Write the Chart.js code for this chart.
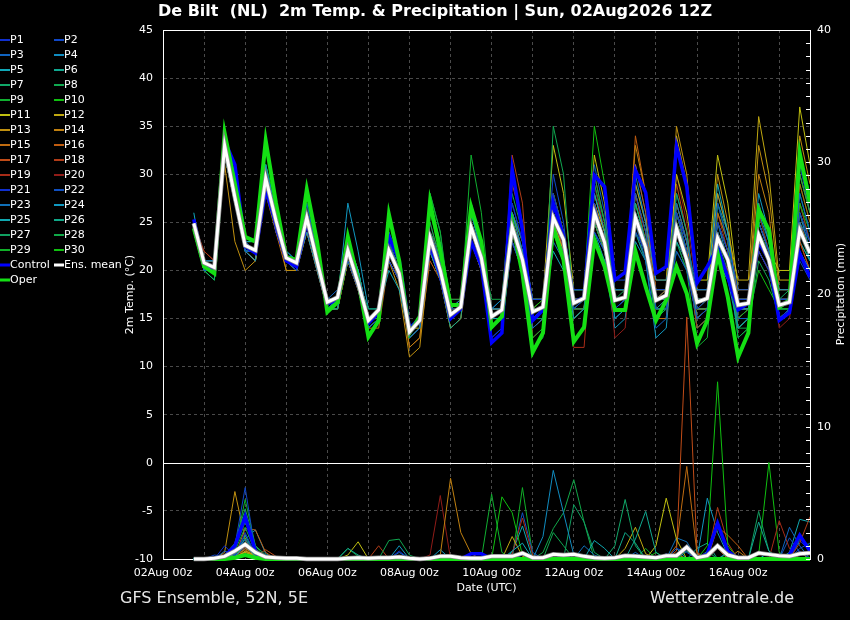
<!DOCTYPE html>
<html>
<head>
<meta charset="utf-8">
<script src="https://cdn.jsdelivr.net/npm/chart.js@4.4.1/dist/chart.umd.min.js"></script>
<style>
  html, body { margin: 0; padding: 0; background: #000; }
  #wrap { position: relative; width: 850px; height: 620px; }
</style>
</head>
<body>
<div id="wrap"><canvas id="chart" width="850" height="620"></canvas></div>
<script>
// =========================
// DATA (6-hourly, hours after 02Aug 00z)
// =========================

const hours = [18,
  24, 30, 36, 42, 48, 54, 60, 66, 72, 78, 84, 90, 96, 102, 108, 114,
  120, 126, 132, 138, 144, 150, 156, 162, 168, 174, 180, 186, 192, 198, 204, 210,
  216, 222, 228, 234, 240, 246, 252, 258, 264, 270, 276, 282, 288, 294, 300, 306,
  312, 318, 324, 330, 336, 342, 348, 354, 360, 366, 372, 378];

const xTickLabels = ["02Aug 00z", "04Aug 00z", "06Aug 00z", "08Aug 00z",
  "10Aug 00z", "12Aug 00z", "14Aug 00z", "16Aug 00z"];

const memberNames = ["P1","P2","P3","P4","P5","P6","P7","P8","P9","P10",
  "P11","P12","P13","P14","P15","P16","P17","P18","P19","P20",
  "P21","P22","P23","P24","P25","P26","P27","P28","P29","P30"];

const memberColors = ["#1030d0","#1048c8","#1064c0","#108cc0","#10a8b8","#10a890","#10a868","#10a850","#10b030","#10c010",
  "#c0c010","#c0a810","#c09010","#c08010","#c06c10","#c05c10","#c04c18","#b03c18","#a82c18","#901c18",
  "#1030d0","#1050c0","#1070b8","#1098c0","#10a8b0","#10a888","#10a060","#10a848","#10b028","#10c010"];

const meanTemp = [24.9,
  20.8, 20.3, 33.0, 27.6,  22.6, 22.1, 29.6, 25.2,  21.3, 20.8, 25.5, 21.0,
  16.7, 17.2, 22.1, 18.7,  14.8, 15.9, 22.1, 19.7,  13.6, 14.8, 23.4, 20.0,
  15.4, 16.2, 24.5, 21.3,  15.2, 15.9, 24.5, 21.1,  15.7, 16.2, 25.5, 23.2,
  16.6, 17.1, 26.0, 22.9,  16.9, 17.2, 25.5, 22.4,  16.9, 17.4, 24.4, 21.1,
  16.7, 17.1, 23.4, 21.1,  16.4, 16.6, 23.7, 21.1,  16.4, 16.7, 24.2, 21.8];

const controlTemp = [25.3,
  20.5, 20.0, 33.5, 31.0,  22.5, 21.8, 28.4, 24.8,  21.0, 20.4, 25.0, 21.2,
  16.5, 17.0, 22.6, 19.0,  14.5, 15.6, 23.5, 21.0,  14.0, 15.0, 22.8, 19.5,
  15.0, 16.0, 23.0, 20.5,  12.5, 13.5, 30.5, 24.2,  14.8, 15.9, 27.0, 23.5,
  16.7, 17.2, 29.9, 28.7,  19.0, 19.8, 30.4, 28.1,  19.7, 20.4, 32.9, 28.7,
  18.7, 20.4, 22.4, 19.3,  15.9, 16.6, 23.0, 21.1,  14.8, 15.6, 21.8, 19.3];

const operTemp = [24.4,
  20.4, 19.7, 34.3, 29.0,  23.5, 23.0, 33.5, 27.0,  21.4, 21.1, 28.4, 23.0,
  15.7, 16.7, 23.5, 19.0,  13.1, 14.8, 25.8, 21.0,  13.5, 15.2, 27.1, 22.0,
  16.4, 16.4, 26.6, 23.0,  14.1, 15.2, 24.9, 19.7,  11.5, 13.5, 24.5, 21.1,
  12.6, 14.1, 23.2, 20.4,  15.9, 15.9, 22.0, 18.3,  14.8, 16.9, 20.4, 17.6,
  12.4, 14.8, 21.8, 17.2,  11.0, 13.5, 26.3, 24.2,  16.2, 16.9, 32.2, 27.0];

const memberTemp = [
  [25, 21,20,34,29, 23,22,29,24, 21,20,25,21, 17,17,23,19, 15,16,21,19, 14,15,22,20, 16,16,24,21, 14,15,27,23, 17,17,28,24, 18,18,27,23, 16,17,24,22, 18,18,26,22, 16,17,25,22, 17,17,22,20, 15,16,26,23],
  [24, 20,20,33,28, 22,22,30,26, 22,21,26,21, 16,17,21,18, 14,15,23,20, 13,14,24,21, 15,16,23,20, 13,14,23,20, 15,16,30,25, 16,17,24,22, 19,19,28,24, 16,16,22,20, 15,16,27,23, 18,18,25,22, 17,17,21,19],
  [25, 21,21,32,27, 23,22,29,25, 21,21,27,22, 17,18,22,19, 15,16,21,19, 14,15,24,20, 15,16,25,22, 16,16,23,20, 14,15,24,22, 17,17,31,26, 18,18,25,21, 14,15,27,23, 18,18,24,21, 15,15,25,22, 17,17,28,24],
  [24, 21,20,33,27, 22,21,31,26, 21,20,24,20, 16,16,22,19, 14,15,22,20, 14,15,22,19, 16,17,26,22, 16,17,26,22, 17,17,24,21, 15,16,23,21, 16,17,30,25, 19,19,24,21, 17,17,21,19, 14,15,26,23, 18,18,25,21],
  [26, 20,20,34,28, 23,23,30,25, 22,21,26,21, 17,17,23,20, 15,16,20,18, 13,14,23,20, 15,16,24,21, 15,15,25,22, 16,16,22,20, 18,18,28,24, 15,16,26,23, 17,17,23,21, 18,18,29,24, 16,16,24,21, 15,16,22,20],
  [25, 21,21,33,28, 22,22,29,25, 21,21,25,21, 16,17,23,20, 15,16,23,21, 14,15,22,19, 14,15,26,22, 16,16,24,21, 15,16,27,24, 17,17,23,21, 18,18,27,23, 16,17,25,22, 15,16,21,19, 17,17,27,23, 16,17,24,22],
  [24, 20,19,32,27, 23,22,31,26, 21,21,25,21, 17,17,22,19, 16,16,22,20, 14,15,25,21, 16,17,24,21, 14,15,26,23, 17,17,26,23, 16,17,25,22, 17,17,24,21, 18,18,28,24, 16,16,25,22, 14,15,23,21, 17,18,26,23],
  [25, 21,20,33,29, 22,22,30,25, 21,21,26,22, 17,17,23,20, 15,15,22,21, 14,15,27,23, 17,17,27,23, 15,16,28,24, 12,13,35,30, 16,16,30,25, 17,18,24,22, 15,16,22,20, 17,17,24,21, 13,14,21,19, 15,16,30,26],
  [25, 20,19,34,29, 23,23,30,26, 22,21,26,22, 16,16,21,19, 14,15,23,20, 14,15,28,24, 16,16,32,26, 15,15,25,22, 13,14,27,23, 15,16,29,25, 18,18,26,22, 16,16,23,20, 12,13,27,23, 15,16,24,22, 16,16,32,28],
  [24, 21,20,33,28, 22,22,31,27, 21,20,25,21, 16,17,22,19, 15,16,23,20, 13,14,26,22, 15,16,25,21, 14,15,24,21, 16,17,28,24, 18,18,35,29, 17,17,27,23, 15,16,26,22, 16,17,23,21, 14,15,20,18, 16,16,27,24],
  [25, 21,21,32,27, 23,22,30,25, 21,21,26,22, 17,17,22,19, 15,16,21,19, 14,14,24,21, 16,17,25,22, 15,15,24,21, 17,17,33,28, 18,18,32,27, 16,16,25,22, 18,18,30,26, 19,19,32,27, 18,18,25,22, 20,20,37,31],
  [24, 20,20,33,28, 22,21,29,25, 21,20,25,21, 16,16,21,18, 14,15,22,19, 14,15,23,20, 15,16,24,21, 16,16,26,23, 17,17,25,22, 17,17,27,24, 18,18,29,25, 19,19,34,29, 17,17,28,24, 19,19,36,30, 19,19,30,26],
  [25, 21,20,31,23, 20,21,30,25, 20,20,24,20, 16,16,21,18, 14,15,21,18, 11,12,22,19, 14,15,23,20, 15,16,25,22, 16,17,26,23, 17,17,25,22, 16,16,28,24, 17,18,35,30, 18,18,30,25, 17,17,33,28, 18,18,34,29],
  [25, 21,20,32,27, 22,22,28,24, 21,20,25,21, 16,17,22,19, 14,15,22,20, 12,13,23,20, 15,16,24,21, 16,16,24,21, 15,16,25,22, 17,17,26,23, 18,18,33,28, 16,16,27,23, 15,16,24,21, 17,17,30,26, 16,17,25,22],
  [24, 20,20,32,27, 23,23,29,24, 20,20,24,20, 16,16,21,18, 14,14,21,19, 13,14,22,19, 15,16,23,20, 15,16,24,21, 16,16,27,23, 16,16,28,24, 17,17,31,26, 15,15,24,21, 16,16,26,23, 14,15,24,21, 15,16,26,23],
  [25, 21,20,33,28, 22,21,29,25, 21,21,26,21, 17,17,22,19, 15,15,21,19, 12,13,21,19, 14,15,24,21, 16,16,25,22, 14,15,24,22, 15,16,25,22, 17,17,34,28, 18,18,26,22, 15,16,25,22, 16,16,23,21, 17,17,29,25],
  [25, 21,21,33,29, 23,22,30,25, 21,21,26,22, 17,17,23,19, 15,16,23,20, 14,15,22,19, 16,16,23,20, 14,15,29,25, 15,16,26,22, 17,17,27,24, 16,16,25,22, 18,18,29,24, 16,17,22,20, 15,16,25,22, 17,17,23,20],
  [24, 22,21,33,29, 22,22,30,25, 21,20,25,21, 16,16,22,19, 15,15,22,19, 13,14,24,21, 17,17,25,21, 15,15,32,27, 13,14,28,24, 15,16,30,25, 18,18,28,23, 17,17,25,22, 14,15,22,20, 18,18,27,23, 16,17,23,20],
  [25, 22,21,32,28, 23,22,31,25, 21,20,26,22, 17,17,22,19, 14,15,22,20, 14,15,23,20, 16,16,25,22, 16,16,26,22, 15,16,24,21, 12,12,26,23, 16,17,27,23, 17,17,24,21, 16,16,26,22, 15,16,22,20, 18,18,27,23],
  [25, 21,20,33,28, 22,22,29,25, 21,21,25,22, 17,17,23,20, 15,16,21,19, 13,14,25,21, 16,16,24,21, 16,16,23,20, 17,17,28,24, 16,17,29,24, 13,14,26,22, 16,17,30,25, 18,18,25,22, 17,17,26,22, 14,15,22,20],
  [25, 21,21,33,29, 23,22,30,26, 21,21,25,21, 16,17,22,19, 15,16,22,20, 14,15,23,20, 15,16,26,22, 13,14,23,20, 16,16,25,22, 18,18,29,24, 17,17,31,26, 16,17,26,23, 17,17,24,21, 16,16,25,22, 17,17,31,26],
  [24, 20,20,34,30, 22,22,29,24, 21,21,26,21, 17,17,22,18, 15,15,23,20, 14,15,22,20, 16,16,24,21, 16,17,27,23, 16,16,26,22, 17,17,25,22, 15,16,24,21, 17,18,23,20, 15,16,28,24, 17,17,24,21, 16,16,25,23],
  [25, 21,20,33,28, 22,21,29,25, 21,20,26,21, 17,17,22,19, 15,16,24,21, 14,15,23,20, 16,16,23,20, 15,16,25,21, 14,15,23,21, 16,16,24,22, 18,18,29,25, 17,17,28,24, 16,16,23,21, 14,15,22,20, 15,16,25,22],
  [25, 21,20,33,28, 22,21,30,25, 21,20,25,21, 17,17,27,22, 16,16,23,20, 14,15,22,20, 15,16,24,21, 16,16,24,22, 15,16,26,23, 16,17,24,21, 14,15,23,21, 13,14,26,23, 17,17,25,21, 16,16,28,24, 17,17,23,21],
  [24, 20,20,32,27, 23,22,29,25, 22,21,25,21, 16,17,23,20, 15,15,22,20, 14,15,24,21, 16,16,25,22, 15,15,26,22, 16,17,27,23, 17,17,26,23, 16,17,25,22, 15,16,24,21, 16,16,27,24, 17,17,24,21, 16,17,26,22],
  [25, 21,21,34,29, 22,22,30,25, 21,20,25,21, 17,17,22,19, 15,16,22,20, 14,15,23,20, 16,17,24,21, 16,16,23,20, 16,16,28,24, 15,16,27,23, 17,17,26,23, 16,16,26,22, 14,15,25,22, 16,16,22,20, 18,18,28,24],
  [25, 21,20,33,28, 23,22,31,26, 21,21,27,22, 16,16,22,19, 15,15,22,20, 14,15,28,24, 15,16,27,23, 16,16,25,22, 15,15,24,21, 17,17,26,23, 18,18,25,22, 15,15,27,23, 17,17,23,20, 15,16,26,22, 16,16,24,21],
  [24, 21,20,33,28, 22,22,29,25, 21,21,26,22, 17,17,22,20, 14,15,21,19, 14,15,24,22, 15,16,25,22, 17,17,30,25, 14,15,24,22, 16,17,28,24, 17,17,28,24, 16,16,26,22, 14,15,26,23, 14,14,23,21, 17,17,27,23],
  [25, 20,19,34,29, 23,23,30,25, 22,21,26,22, 17,17,23,20, 15,16,22,20, 14,15,22,20, 16,16,26,23, 15,16,24,21, 15,15,26,23, 15,16,25,22, 16,17,27,23, 18,18,25,22, 15,16,23,21, 13,14,25,22, 16,17,29,25],
  [25, 21,20,33,28, 22,22,30,26, 21,20,25,21, 16,17,22,19, 15,15,23,20, 13,14,23,21, 15,16,24,21, 15,15,25,22, 16,16,25,22, 18,18,27,23, 16,16,25,22, 17,17,24,21, 17,17,22,20, 15,16,24,21, 15,16,23,21]
];

const meanPrecip = [0,
  0, 0.05, 0.2, 0.6,  1.1, 0.5, 0.15, 0.1,  0.05, 0.05, 0, 0,  0, 0, 0.05, 0.1,
  0.05, 0.1, 0.1, 0.15,  0.05, 0, 0.05, 0.2,  0.2, 0.1, 0.05, 0.05,  0.2, 0.2, 0.2, 0.45,
  0.1, 0.1, 0.35, 0.3,  0.35, 0.2, 0.1, 0.05,  0.1, 0.25, 0.2, 0.15,  0.1, 0.25, 0.25, 0.9,
  0.1, 0.25, 1.0, 0.3,  0.1, 0.1, 0.45, 0.35,  0.25, 0.2, 0.4, 0.45];

const controlPrecip = [0,
  0,0,0.2,1.0, 3.2,0.6,0,0, 0,0,0,0, 0,0,0,0, 0,0,0,0, 0,0,0,0, 0,0,0.4,0.4, 0,0,0,0,
  0,0,0,0, 0,0,0,0, 0,0,0,0, 0,0,0,0, 0,0.4,2.7,0.6, 0,0,0,0, 0,0.3,1.8,0.6];

const operPrecip = [0,
  0,0,0,0.1, 0.3,0.1,0,0, 0,0,0,0, 0,0,0,0, 0,0,0,0, 0,0,0,0, 0,0,0,0, 0,0,0,0,
  0,0,0,0, 0,0,0,0, 0,0,0,0, 0,0,0,0, 0,0,0,0, 0,0,0,0, 0,0,0,0];

const memberPrecip = [
  [0, 0,0,1.0,0.2, 2.0,0.3,0,0, 0,0,0,0, 0,0,0,0, 0,0,0,0.2, 0,0,0,0, 0,0,0,0, 0,0,0,0.3, 0,0,0,0, 0,0,0,0, 0,0,0,0, 0,0.4,0,0, 0,0,0,0, 0,0,0,0, 0,0,0.6,0],
  [0, 0,0.3,0.2,1.0, 5.4,0.5,0,0, 0,0,0,0, 0,0,0,0, 0,0,0,0, 0,0,0,0, 0,0,0,0, 0,0,0,0, 0,0,0,0.4, 0,0,0,0, 0,0,0,0, 0,0,0.8,0.5, 0,0,0,0, 0,0,0,0, 0,0,0.8,1.2],
  [0, 0,0,0.6,0.3, 1.5,0.4,0,0, 0,0,0,0, 0,0,0,0, 0,0,0,0.5, 0,0,0,0, 0,0,0,0, 0,0,0,0, 0,0,0,0, 0,0,0,0, 0,0,0.5,0, 0,0,0,0, 0,0,0,0, 0,0,0,0, 0,2.4,1.0,0],
  [0, 0,0,0,0.2, 1.0,0.2,0,0, 0,0,0,0, 0,0,0,0, 0,0,0,0, 0,0,0,0, 0,0,0,0, 0,0,0,0, 0,1.7,6.7,3.5, 0.3,0,0,0, 0,0,0,0, 0,0,0,0, 0,0,0,0.5, 0,0,0,0, 0,0,0,0],
  [0, 0,0,0.2,0.5, 1.2,0.6,0,0, 0,0,0,0, 0,0,0,0, 0,0,0,0, 0,0,0,0, 0,0,0,0, 0,0,0.6,1.2, 0,0,0,0, 0,0,0,0, 0,0,0,0, 0,0,0.8,0, 0,0,0,0, 0,0,0,0.5, 0,0,0,0],
  [0, 0,0,0,0.4, 1.8,0.4,0,0, 0,0,0,0, 0,0,0.8,0.3, 0,0,0,0, 0,0,0,0, 0,0,0,0, 0,0,0,0, 0,0,0,0, 0,0,0,0, 0,0,1.5,3.6, 0.5,0,0,0, 0,0,0,0, 0,0,2.8,0.6, 0,0,0,0],
  [0, 0,0,0.3,1.2, 3.8,1.0,0.3,0, 0,0,0,0, 0,0,0,0, 0,0,0,0, 0,0,0,0, 0,0,0,0, 0,0,0,0, 0,0,0,0, 0,0,0,0, 1.0,4.5,1.0,0, 0,0,0,0, 0,0.6,0,0, 0,0,0,0, 0,0,0,0],
  [0, 0,0,0,0.6, 2.4,0.5,0,0, 0,0,0,0, 0,0,0,0, 0,0,1.4,1.5, 0.3,0,0,0, 0,0,0,0, 0,0,0,0, 0,0,2.0,1.0, 0,0,0,0, 0,0,0,0, 0,0,0,0.6, 0,0,0,0, 0,0,0,0, 0,0,0,0],
  [0, 0,0,0.2,0.8, 4.5,1.0,0,0, 0,0,0,0, 0,0,0,0, 0,0,0,0, 0,0,0,0, 0,0,0,0, 4.9,0.5,0,0, 0,0,0,0, 0,0,0,0, 0,0,0,0, 0,0,0,0, 0,0,0,0.4, 0,0,0,0, 0,0,0,0],
  [0, 0,0,0,0.3, 1.0,0.3,0,0, 0,0,0,0, 0,0,0,0, 0,0,0,0, 0,0,0,0, 0,0,0,0, 0,4.7,3.5,0.3, 0,0,0,0, 0,0,0,0, 0,0,0,0, 0,0,0,0, 0,1.0,13.4,1.0, 0,0,0,0, 0,0,0,0],
  [0, 0,0,0,0.2, 0.5,0.2,0,0, 0,0,0,0, 0,0,0.3,1.3, 0,0,0,0, 0,0,0,0, 0,0,0,0, 0,0,0,0, 0,0,0,0, 0,0,0,0, 0,0,0,0, 1.0,4.6,1.5,0, 0,0,0,0, 0,0,0,0, 0,0,0,0],
  [0, 0,0,0,0, 0.6,0.3,0,0, 0,0,0,0, 0,0,0,0, 0,0,0,0, 0,0,0,0, 0,0,0,0, 0,0,1.7,0.2, 0,0,0,0, 0,0,0,0, 0,0.8,2.4,0.4, 0,0,0,0, 0,0,0,0, 0,0,0,0, 0,0,0.5,0],
  [0, 0,0,0.5,5.1, 1.5,0.2,0,0, 0,0,0,0, 0,0,0,0, 0,0,0,0, 0,0,0,0, 0,0,0,0, 0,0,0,0, 0,0,0,0, 0,0,0,0, 0,0,0,0, 0,0,0.4,0, 0,0,0,0, 0,0,0,0, 0,0,0,0],
  [0, 0,0,0,0, 0.8,0.3,0,0, 0,0,0,0, 0,0,0,0, 0,0,0,0, 0,0,0,0.3, 6.1,2.0,0.4,0, 0,0,0,0, 0,0,0,0, 0,0,0,0, 0,0,0,0, 0,0,0,0, 0,0,0,0, 0.6,0,0,0, 0,0,0,0],
  [0, 0,0,0,0.3, 0.7,0.2,0,0, 0,0,0,0, 0,0,0,0, 0,0,0,0, 0,0,0,0, 0,0,0,0, 0,0,0,0, 0,0,0,0, 0,0,0,0, 0,0,0,0, 0,0,1.0,7.0, 0.4,0,0.8,0, 0,0,0,0, 0,0,0,0],
  [0, 0,0,0,0.2, 2.3,2.2,0.5,0, 0,0,0,0, 0,0,0,0, 0,0,0,0, 0,0,0,0, 0,0,0,0, 0,0,0,0, 0,0,0,0, 0,0,0,0, 0,0,0,0, 0,0,0,0, 0,0,2.4,1.8, 1.0,0,0,0, 0,0,0,0],
  [0, 0,0,0,0, 0.6,0.2,0.7,0.2, 0,0,0,0, 0,0,0,0, 0,0,0,0, 0,0,0,0, 0,0,0,0, 0,0,0,0, 0,0,0,0, 0,0,0,0, 0,0,0,0, 0,0,0.6,18.3, 0.5,0,0,0, 0,0,0,0, 0,0,0,0],
  [0, 0,0,0,0.3, 0.9,0.3,0,0, 0,0,0,0, 0,0,0,0, 0,1.0,0,0, 0,0,0,0, 0,0,0,0, 0,0,0,0, 0,0,0,0, 0,0,0,0, 0,0,0,0, 0,0,0,0, 0,0,3.9,1.2, 0,0,0,0, 0,0,1.2,3.2],
  [0, 0,0,0,0, 0.5,0.2,0,0, 0,0,0,0, 0,0,0,0, 0,0,0,0, 0,0,0,0, 0,0,0,0, 0,0,0.4,3.1, 0.3,0,0,0, 0,0,0,0, 0,0,0,0, 0,0,0,0, 0,0,0,0, 0,0,0,0, 2.9,0.8,0,0],
  [0, 0,0,0,0, 0.4,0,0,0, 0,0,0,0, 0,0,0,0, 0,0,0,0, 0,0,0.3,4.8, 0,0,0,0, 0,0,0,0, 0,0,0,0, 0,0,0,0, 0,0,0,0, 0,0,0,0.8, 0,0,0,0, 0,0,0,0, 0,0,0,0],
  [0, 0,0,0.2,0.4, 1.2,0.3,0,0, 0,0,0,0, 0,0,0,0, 0,0,0,0.6, 0,0,0,0, 0,0,0,0, 0,0,0,0, 0,0,0,0, 0,0,0,0, 0,0,0,0, 0,0,0,0, 0,0,0.8,0, 0,0,0,0, 0,0,1.4,0.6],
  [0, 0,0,0,0.3, 0.9,0.3,0,0, 0,0,0,0, 0,0,0,0, 0,0,0,0, 0,0,0,0, 0,0,0,0, 0,0,0.3,3.5, 0.5,0,0,0, 0,0,0,0, 0,0,0,0, 0,0,0,0.6, 0,0,0,0, 0,0,0,0, 0,1.6,0.5,0],
  [0, 0,0,0,0.2, 0.8,0.4,0,0, 0,0,0,0, 0,0,0,0, 0,0,0,0, 0,0,0,0, 0,0,0,0, 0,0,0,0, 0,0,0,0, 0,1.0,0.3,0, 0,0,0,0, 0,0,1.6,1.3, 0,0,0,0, 0,0,0,0, 0,0,0,0],
  [0, 0,0,0,0.5, 1.5,2.2,0.4,0, 0,0,0,0, 0,0,0,0, 0,0,0,1.0, 0,0,0,0.7, 0,0,0,0, 0,0,0,0, 0,0,0,0, 0,0,0,0, 0,0,0,0, 0,0,0,0, 0,4.6,2.0,0.3, 0,0,0,0, 0,0,0,0],
  [0, 0,0,0,0, 0.6,0.2,0,0, 0,0,0,0, 0,0,0,0, 0,0,0,0, 0,0,0,0, 0,0,0,0, 0,0,0.5,2.5, 0,0,0,0, 0,0,1.4,0.8, 0,0,0,0, 0,0,0,0, 0,0,0,0, 0,0,0,0, 0,0.5,3.0,2.8],
  [0, 0,0,0,0.4, 1.0,0.3,0,0, 0,0,0,0, 0,0,0,0, 0,0,0,0, 0,0,0,0, 0,0,0,0, 0,0,0,0, 0,0,0,0, 0,0,0,0, 0,2.0,1.2,0, 0,0,0,0, 0.8,1.2,0,0, 0,0,0,0, 0,0,0,0],
  [0, 0,0,0,0.8, 2.8,0.8,0,0, 0,0,0,0, 0,0,0,0, 0,0,0,0, 0,0,0,0, 0,0,0,0, 0,0,0,0, 0,0,0,0, 4.1,2.8,0.5,0, 0,0,0,0, 0,0,0,0, 0,0,0,0, 0,0,3.6,0.6, 0,0,0,0],
  [0, 0,0,0,0.3, 1.6,0.5,0,0, 0,0,0,0, 0,0,0.8,0.2, 0,0,0,0, 0,0,0,0, 0,0,0,0, 0,0,0,0, 0,0.5,2.3,3.5, 6.0,2.8,0,0, 0,0,0,0, 0,0,0,0, 0,0,0,0, 0,0,0,0, 0,0,0,0],
  [0, 0,0,0,1.0, 3.3,0.6,0,0, 0,0,0,0, 0,0,0,0, 0,0,0,0, 0,0,0,0, 0,0,0,0, 0,0,0,5.4, 0.3,0,0,0, 0,0,0,0, 0,0,0,0.8, 0,0,0,0, 0,0,0,0, 0,0,0,0, 0,0,1.5,1.0],
  [0, 0,0,0,0.3, 1.3,0.4,0,0, 0,0,0,0, 0,0,0,0, 0,0,0,0, 0,0,0,0, 0,0,0,0, 0,0,0,0, 0,0,0,0, 0,0,0,0, 0,0,0,0, 0.5,0,0,0, 0,0,0,0, 0,0,0.3,7.3, 0.5,0,0,0]
];

const precipTicks = [0, 1, 2, 3, 4, 5, 6, 7, 8, 9, 10, 11, 12, 13, 14, 15, 16, 17, 18, 19, 20,
  21, 22, 23, 24, 25, 26, 27, 28, 29, 30, 31, 32, 33, 34, 35, 36, 37, 38, 39, 40];

// =========================
// DATASETS
// =========================

const FONT = "DejaVu Sans";
const datasets = [];

function addSeries(label, color, width, temp, precip, order) {
  const common = {
    borderColor: color,
    backgroundColor: color,
    borderWidth: width,
    pointRadius: 0,
    tension: 0,
    fill: false,
    order,
  };
  datasets.push({ ...common, label, data: temp, yAxisID: "yT" });
  // precipitation lines may spill a little under the bottom border, like the original
  datasets.push({ ...common, label: label + " precip", data: precip, yAxisID: "yP",
    clip: { left: 0, top: 0, right: 0, bottom: 3 } });
}

addSeries("Ens. mean", "#ffffff", 3, meanTemp, meanPrecip, 0);
addSeries("Ens. mean edge", "#8a8a8a", 4.5, meanTemp, meanPrecip, 1);
addSeries("Oper", "#14e014", 4, operTemp, operPrecip, 2);
addSeries("Control", "#0000ff", 3.5, controlTemp, controlPrecip, 3);
memberNames.forEach((name, i) => {
  addSeries(name, memberColors[i], 1, memberTemp[i], memberPrecip[i], 4 + i);
});

const legendItems = memberNames.map((n, i) => ({ text: n, color: memberColors[i], w: 2 }))
  .concat([
    { text: "Control", color: "#0000ff", w: 3 },
    { text: "Ens. mean", color: "#ffffff", w: 3 },
    { text: "Oper", color: "#14e014", w: 3 },
  ]);

// =========================
// DECORATION PLUGIN
// =========================

const decor = {
  id: "decor",
  beforeDraw(chart) {
    const ctx = chart.ctx;
    ctx.save();
    ctx.fillStyle = "#000";
    ctx.fillRect(0, 0, chart.width, chart.height);
    ctx.restore();
  },
  beforeDatasetsDraw(chart) {
    const { ctx, chartArea } = chart;
    const y0 = Math.round(chart.scales.yT.getPixelForValue(0)) + 0.5;
    ctx.save();
    ctx.strokeStyle = "#ffffff";
    ctx.lineWidth = 1;
    ctx.beginPath();
    ctx.moveTo(chartArea.left, y0);
    ctx.lineTo(chartArea.right, y0);
    ctx.stroke();
    ctx.restore();
  },
  afterDatasetsDraw(chart) {
    const { ctx, chartArea } = chart;
    const yP = chart.scales.yP;
    ctx.save();
    ctx.strokeStyle = "#ffffff";
    ctx.lineWidth = 1;
    ctx.beginPath();
    ctx.moveTo(chartArea.left, chartArea.top + 0.5);
    ctx.lineTo(chartArea.right, chartArea.top + 0.5);
    ctx.stroke();
    // small inward ticks on the precipitation axis
    ctx.beginPath();
    precipTicks.forEach((v) => {
      const y = Math.round(yP.getPixelForValue(v)) + 0.5;
      ctx.moveTo(chartArea.right - 4, y);
      ctx.lineTo(chartArea.right, y);
    });
    ctx.stroke();
    ctx.restore();
  },
  afterDraw(chart) {
    const ctx = chart.ctx;
    ctx.save();
    ctx.fillStyle = "#ffffff";
    ctx.textBaseline = "middle";

    ctx.font = `bold 16px "${FONT}"`;
    ctx.textAlign = "center";
    ctx.fillText("De Bilt  (NL)  2m Temp. & Precipitation | Sun, 02Aug2026 12Z", 435, 12);

    ctx.font = `16px "${FONT}"`;
    ctx.fillStyle = "#e6e6e6";
    ctx.textAlign = "left";
    ctx.fillText("GFS Ensemble, 52N, 5E", 120, 599);
    ctx.fillText("Wetterzentrale.de", 650, 599);

    // right axis title, reading bottom to top
    ctx.fillStyle = "#ffffff";
    ctx.font = `11px "${FONT}"`;
    ctx.save();
    ctx.translate(841, 294);
    ctx.rotate(-Math.PI / 2);
    ctx.textAlign = "center";
    ctx.fillText("Precipitation (mm)", 0, 0);
    ctx.restore();

    // legend, two columns
    legendItems.forEach((item, k) => {
      const col = k % 2;
      const row = Math.floor(k / 2);
      const x = col === 0 ? 0 : 54;
      const y = 39 + row * 15;
      ctx.strokeStyle = item.color;
      ctx.lineWidth = item.w;
      ctx.beginPath();
      ctx.moveTo(x, y + 1);
      ctx.lineTo(x + 10, y + 1);
      ctx.stroke();
      ctx.fillStyle = "#ffffff";
      ctx.textAlign = "left";
      ctx.fillText(item.text, x + 10, y + 1);
    });
    ctx.restore();
  },
};

// =========================
// CHART
// =========================

Chart.defaults.font.family = FONT;
Chart.defaults.color = "#ffffff";

new Chart(document.getElementById("chart"), {
  type: "line",
  data: { labels: hours, datasets },
  plugins: [decor],
  options: {
    responsive: false,
    animation: false,
    events: [],
    layout: { padding: { left: 120, right: 10, top: 30, bottom: 21 } },
    plugins: { legend: { display: false }, tooltip: { enabled: false } },
    scales: {
      x: {
        type: "linear",
        position: "bottom",
        min: 0,
        max: 378,
        afterFit: (s) => { s.height = 40; },
        ticks: {
          stepSize: 24,
          autoSkip: false,
          includeBounds: false,
          maxRotation: 0,
          padding: 8,
          color: "#ffffff",
          font: { size: 11 },
          callback: (v) => (v % 48 === 0 ? xTickLabels[v / 48] : ""),
        },
        grid: { color: "#4a4a4a", drawTicks: false },
        border: { color: "#ffffff", dash: [3, 3] },
        title: { display: true, text: "Date (UTC)", color: "#ffffff", font: { size: 11 }, padding: 4 },
      },
      yT: {
        position: "left",
        min: -10,
        max: 45,
        afterFit: (s) => { s.width = 43; },
        ticks: { stepSize: 5, padding: 10, color: "#ffffff", font: { size: 11 } },
        grid: {
          color: (c) => (c.tick && c.tick.value === 0 ? "rgba(0,0,0,0)" : "#4a4a4a"),
          drawTicks: false,
        },
        border: { color: "#ffffff", dash: [3, 3] },
        title: { display: true, text: "2m Temp. (°C)", color: "#ffffff", font: { size: 11 }, padding: 4 },
      },
      yP: {
        position: "right",
        min: 0,
        max: 40,
        afterFit: (s) => { s.width = 30; },
        ticks: { stepSize: 10, padding: 7, color: "#ffffff", font: { size: 11 } },
        grid: { drawOnChartArea: false, drawTicks: false },
        border: { color: "#ffffff" },
      },
    },
  },
});
</script>
</body>
</html>
